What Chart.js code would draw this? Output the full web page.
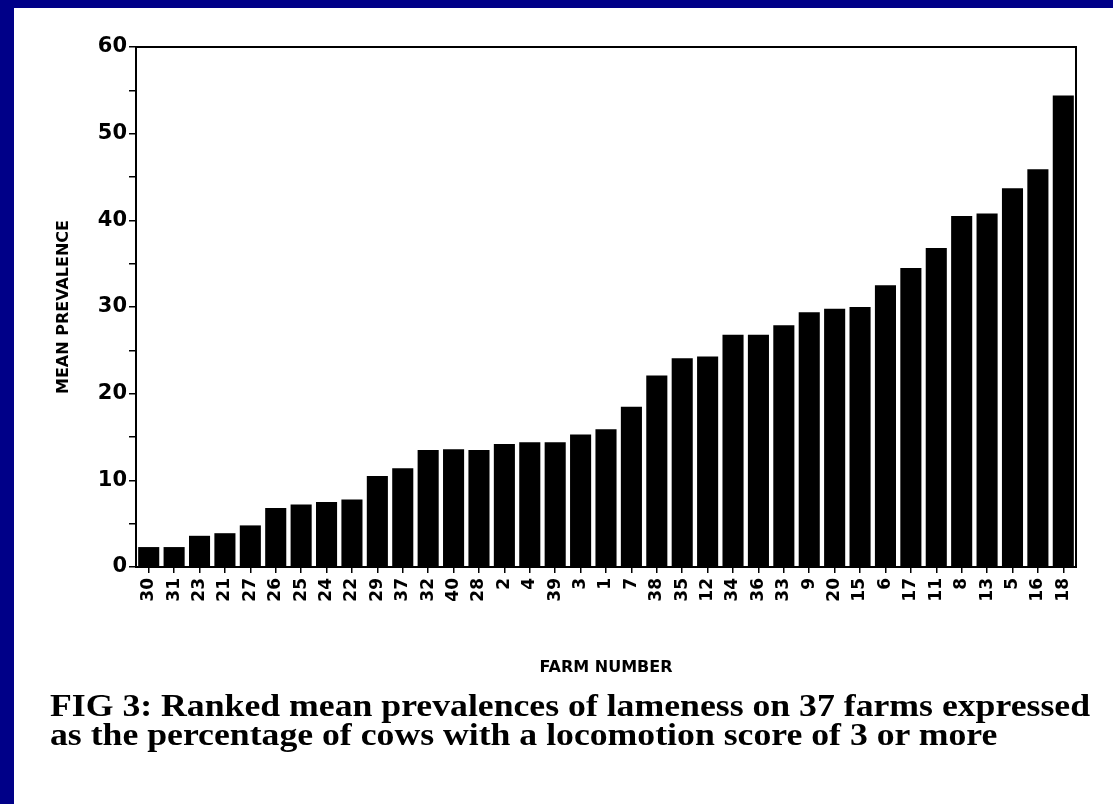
<!DOCTYPE html>
<html>
<head>
<meta charset="utf-8">
<script src="https://cdn.jsdelivr.net/npm/chart.js@4.4.1/dist/chart.umd.min.js"></script>
<style>
  html, body { margin: 0; padding: 0; background: #000088; width: 1113px; height: 804px; overflow: hidden; }
  #panel { position: absolute; left: 14px; top: 8px; width: 1099px; height: 796px; background: #fff; }
  #wrap { position: absolute; left: 0; top: 0; width: 1099px; height: 680px; }
  #caption { position: absolute; left: 36px; top: 683px; font-family: "Liberation Serif", serif; font-weight: bold; font-size: 32px; line-height: 29px; color: #000; white-space: nowrap; transform-origin: 0 0; }
</style>
</head>
<body>
<div id="panel">
  <div id="wrap"><canvas id="lameChart"></canvas></div>
  <div id="caption">FIG 3: Ranked mean prevalences of lameness on 37 farms expressed<br>as the percentage of cows with a locomotion score of 3 or more</div>
</div>
<script>
// farms ranked by mean prevalence of lameness
const farms = ["30", "31", "23", "21", "27", "26", "25", "24", "22", "29", "37", "32", "40",
    "28", "2", "4", "39", "3", "1", "7", "38", "35", "12", "34", "36", "33", "9", "20",
    "15", "6", "17", "11", "8", "13", "5", "16", "18"];
const prevalence = [2.3, 2.3, 3.6, 3.9, 4.8, 6.8, 7.2, 7.5, 7.8, 10.5, 11.4, 13.5, 13.6,
    13.5, 14.2, 14.4, 14.4, 15.3, 15.9, 18.5, 22.1, 24.1, 24.3, 26.8, 26.8, 27.9, 29.4, 29.8,
    30.0, 32.5, 34.5, 36.8, 40.5, 40.8, 43.7, 45.9, 54.4];
const yTicks = [0, 10, 20, 30, 40, 50, 60];

let ctx = document.getElementById("lameChart").getContext("2d");

let boldSans = { family: "'DejaVu Sans', sans-serif", weight: "bold" };

new Chart(ctx, {
    type: 'bar',
    data: {
        labels: farms,
        datasets: [{
            label: "Mean prevalence",
            data: prevalence,
            backgroundColor: "#000",
            borderWidth: 0,
            barPercentage: 0.83,
            categoryPercentage: 1.0
        }]
    },
    options: {
        responsive: true,
        maintainAspectRatio: false,
        animation: false,
        layout: { padding: { left: 36, top: 39, right: 37, bottom: 7 } },
        plugins: {
            legend: { display: false },
            tooltip: { enabled: false }
        },
        scales: {
            x: {
                position: 'bottom',
                grid: { display: true, drawOnChartArea: false, offset: false, color: "#000", lineWidth: 1.5, tickLength: 6 },
                border: { display: true, color: "#000", width: 2 },
                ticks: {
                    autoSkip: false, minRotation: 90, maxRotation: 90, color: "#000",
                    padding: 5, font: Object.assign({ size: 17 }, boldSans)
                },
                title: {
                    display: true, text: "FARM NUMBER", color: "#000",
                    font: Object.assign({ size: 16 }, boldSans)
                },
                afterFit: s => { s.height = 114; }
            },
            x2: {
                type: 'category',
                position: 'top',
                labels: farms,
                grid: { display: false },
                border: { display: true, color: "#000", width: 2 },
                ticks: { display: false },
                afterFit: s => { s.height = 0; }
            },
            y: {
                min: 0,
                max: 60,
                position: 'left',
                grid: { display: true, drawOnChartArea: false, color: "#000", lineWidth: 1.5, tickLength: 7 },
                border: { display: true, color: "#000", width: 2 },
                ticks: {
                    stepSize: 5, color: "#000", padding: 2,
                    font: Object.assign({ size: 21 }, boldSans),
                    callback: v => yTicks.includes(v) ? v : ''
                },
                title: {
                    display: true, text: "MEAN PREVALENCE", color: "#000",
                    font: Object.assign({ size: 16 }, boldSans)
                },
                afterFit: s => { s.width = 86; }
            },
            y2: {
                type: 'linear',
                position: 'right',
                min: 0,
                max: 60,
                grid: { display: false },
                border: { display: true, color: "#000", width: 2 },
                ticks: { display: false },
                afterFit: s => { s.width = 0; }
            }
        }
    }
});

// squeeze caption to the width it has in the figure
let cap = document.getElementById("caption");
let w = cap.getBoundingClientRect().width;
cap.style.transform = "scaleX(" + (1040 / w) + ")";
</script>
</body>
</html>
